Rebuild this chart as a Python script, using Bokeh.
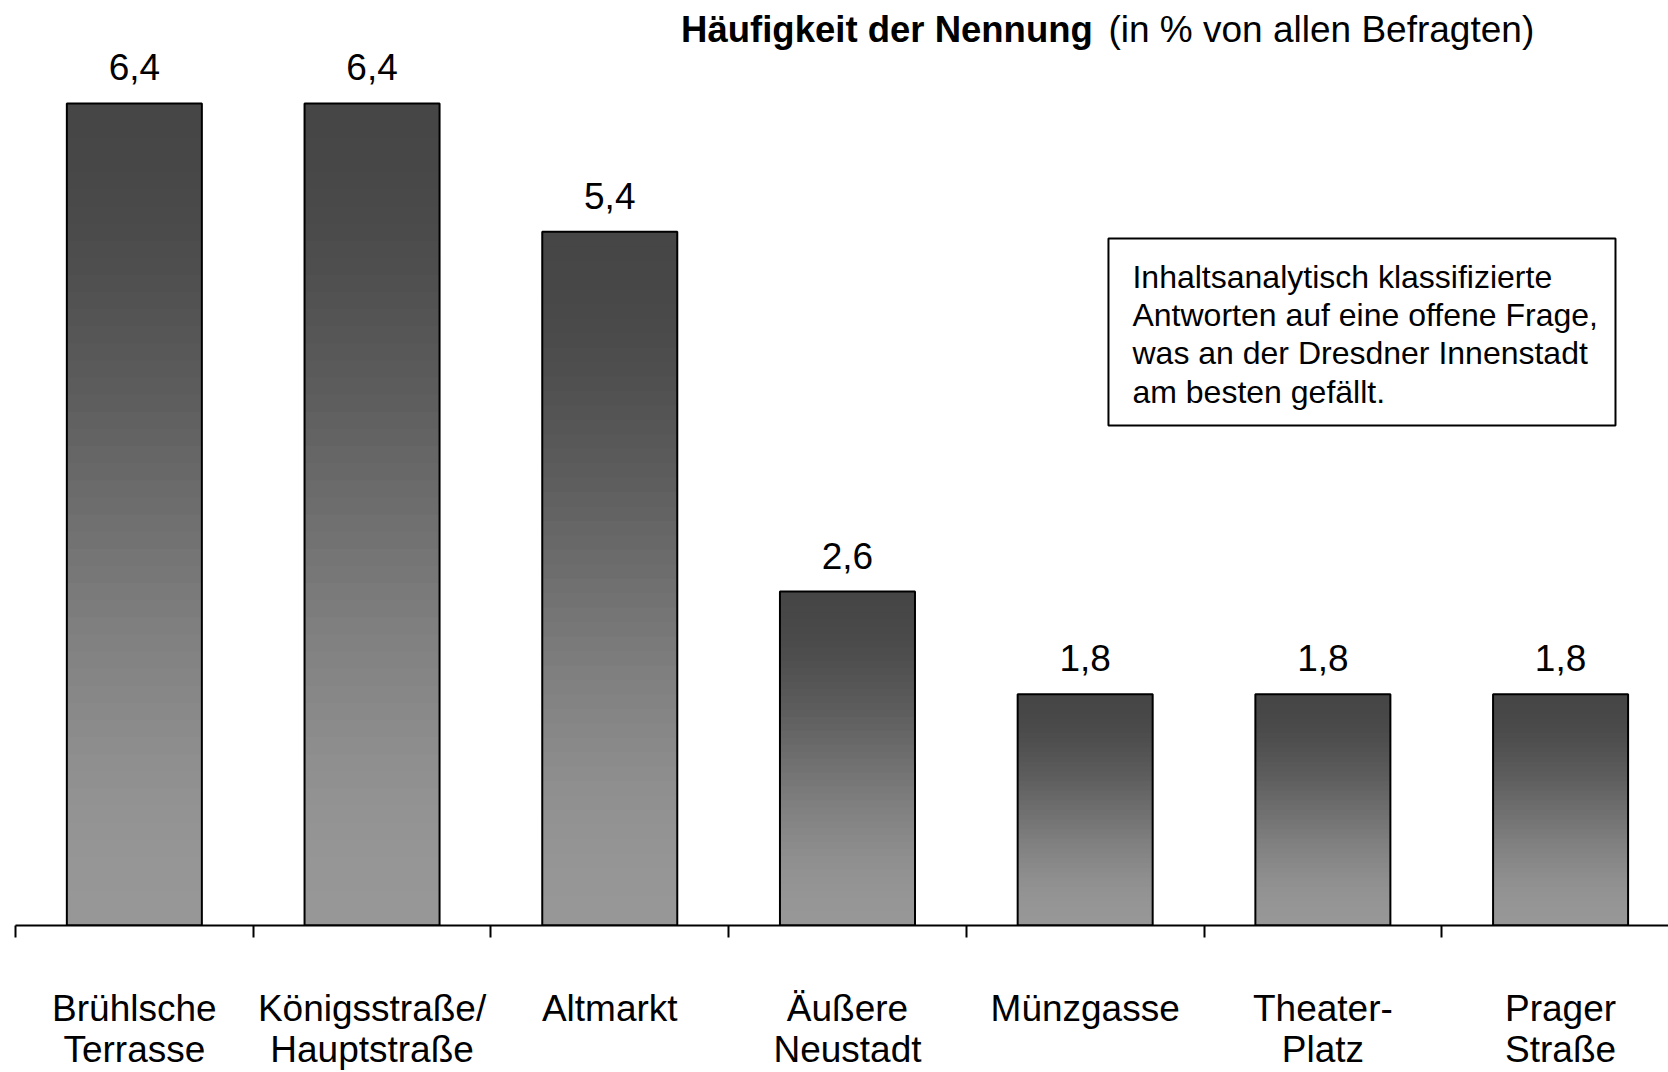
from bokeh.plotting import figure
from bokeh.models import Range1d, FixedTicker, BoxAnnotation, Label, LabelSet, ColumnDataSource
from bokeh.core.properties import value
from bokeh.embed import file_html
from bokeh.resources import INLINE

# ---- data ----
categories = ["Brühlsche\nTerrasse", "Königsstraße/\nHauptstraße", "Altmarkt",
              "Äußere\nNeustadt", "Münzgasse", "Theater-\nPlatz", "Prager\nStraße"]
values = [6.4, 6.4, 5.4, 2.6, 1.8, 1.8, 1.8]
value_labels = ["6,4", "6,4", "5,4", "2,6", "1,8", "1,8", "1,8"]
title_bold = "Häufigkeit der Nennung"
title_rest = "(in % von allen Befragten)"
note_text = ("Inhaltsanalytisch klassifizierte\nAntworten auf eine offene Frage,\n"
             "was an der Dresdner Innenstadt\nam besten gefällt.")

FONT = "Liberation Sans"
n = len(values)
xs = [i + 0.5 for i in range(n)]
BAR_W = 0.568

p = figure(width=1668, height=1072,
           x_range=Range1d(0, 6.954), y_range=Range1d(0, 7.201),
           output_backend="svg", toolbar_location=None,
           y_axis_location=None,
           min_border_left=15, min_border_right=0, min_border_top=0, min_border_bottom=0)
p.xgrid.visible = False
p.ygrid.visible = False
p.outline_line_color = None
p.background_fill_color = "white"
p.border_fill_color = "white"

# ---- gradient bars (dark top -> light bottom) ----
NB = 48
top_gray, bot_gray = 70, 151
bl, br, bt, bc = [], [], [], []
for k in range(NB):
    t = (k + 0.5) / NB
    s = 3 * t * t - 2 * t ** 3
    g = int(round(top_gray + (bot_gray - top_gray) * s))
    col = "#%02x%02x%02x" % (g, g, g)
    for x, v in zip(xs, values):
        bl.append(x - BAR_W / 2)
        br.append(x + BAR_W / 2)
        bt.append(v * (1 - k / NB))
        bc.append(col)
p.quad(left=bl, right=br, top=bt, bottom=0, fill_color=bc, line_color=None)
p.quad(left=[x - BAR_W / 2 for x in xs], right=[x + BAR_W / 2 for x in xs],
       top=values, bottom=0, fill_alpha=0, line_color="black", line_width=2)

# ---- value labels ----
src = ColumnDataSource(dict(x=xs, y=values, t=value_labels))
p.add_layout(LabelSet(x="x", y="y", text="t", source=src, text_align="center",
                      text_baseline="alphabetic", y_offset=23,
                      text_font=value(FONT), text_font_size=value("37px"),
                      text_color="black"))

# ---- x axis ----
ax = p.xaxis[0]
ax.ticker = FixedTicker(ticks=xs, minor_ticks=list(range(n + 1)))
ax.major_label_overrides = {x: c for x, c in zip(xs, categories)}
ax.axis_line_color = "black"
ax.axis_line_width = 2
ax.major_tick_out = 0
ax.major_tick_in = 0
ax.minor_tick_out = 12
ax.minor_tick_in = 0
ax.minor_tick_line_color = "black"
ax.minor_tick_line_width = 2
ax.major_label_standoff = 50
ax.major_label_text_font = FONT
ax.major_label_text_font_size = "37px"
ax.major_label_text_color = "black"
ax.major_label_text_line_height = 1.0

# ---- title ----
p.add_layout(Label(x=4.532, y=6.975, text=title_bold, text_align="right",
                   text_baseline="middle", text_font=FONT, text_font_size="36.5px",
                   text_font_style="bold", text_color="black"))
p.add_layout(Label(x=4.598, y=6.975, text=title_rest, text_align="left",
                   text_baseline="middle", text_font=FONT, text_font_size="37px",
                   text_color="black"))

# ---- note box ----
p.add_layout(BoxAnnotation(left=4.598, right=6.731, top=5.348, bottom=3.893,
                           fill_color="white", fill_alpha=1,
                           line_color="black", line_alpha=1, line_width=2))
p.add_layout(Label(x=4.699, y=5.188, text=note_text, text_align="left",
                   text_baseline="top", text_font=FONT, text_font_size="32px",
                   text_line_height=1.06, text_color="black"))

open("out.html", "w").write(file_html(p, INLINE))
